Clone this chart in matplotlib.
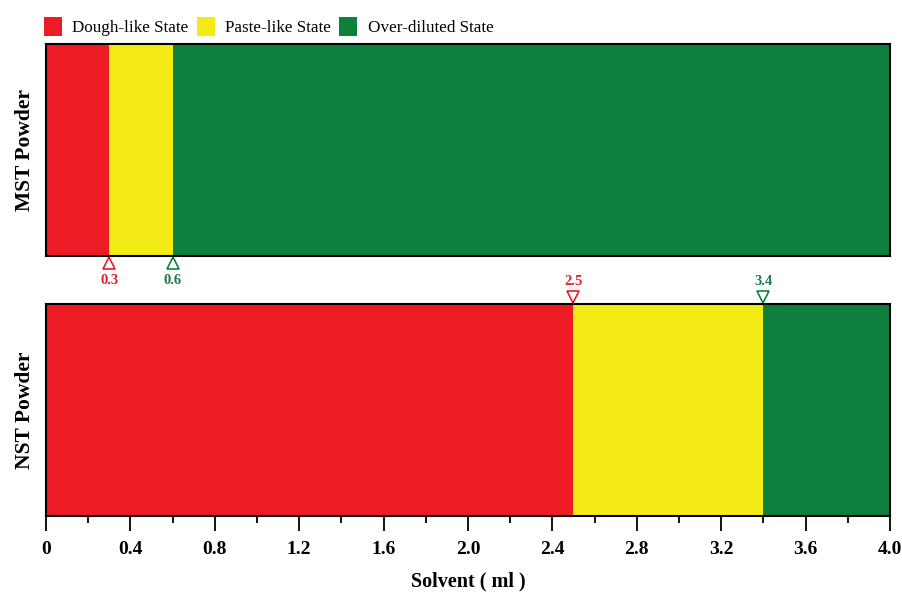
import matplotlib.pyplot as plt
from matplotlib.patches import Patch
from matplotlib.ticker import MultipleLocator

plt.rcParams['font.family'] = ['Liberation Serif', 'DejaVu Serif']

states = ['Dough-like State', 'Paste-like State', 'Over-diluted State']
colors = ['#ED1C24', '#F4EA16', '#0E7F3C']
x_max = 4.0
mst_bounds = [0.3, 0.6]   # dough->paste, paste->over-diluted
nst_bounds = [2.5, 3.4]
panels = ['MST Powder', 'NST Powder']

fig = plt.figure(figsize=(9.03, 5.92), dpi=100)
ax1 = fig.add_axes([0.0509, 0.5676, 0.9347, 0.358])
ax2 = fig.add_axes([0.0509, 0.1284, 0.9347, 0.358])

for ax, b, name in zip([ax1, ax2], [mst_bounds, nst_bounds], panels):
    edges = [0] + b + [x_max]
    lefts = edges[:-1]
    widths = [edges[i + 1] - edges[i] for i in range(3)]
    ax.barh([0, 0, 0], widths, left=lefts, height=1, color=colors)
    ax.set_xlim(0, x_max)
    ax.set_ylim(-0.5, 0.5)
    ax.set_yticks([])
    ax.set_ylabel(name, fontsize=15.5, fontweight='bold', labelpad=8)
    for s in ax.spines.values():
        s.set_linewidth(1.5)

ax1.set_xticks([])

# markers for the boundaries
mc = [colors[0], colors[2]]
mc_txt = ['#E02030', '#1A7A45']
for v, c, t in zip(mst_bounds, mc, mc_txt):
    ax1.plot(v, -0.535, marker='^', ms=9, mfc='white', mec=c, mew=1.2, clip_on=False)
    ax1.text(v, -0.585, str(v), color=t, ha='center', va='top', fontsize=10.5,
             fontweight='bold')
for v, c, t in zip(nst_bounds, mc, mc_txt):
    ax2.plot(v, 0.535, marker='v', ms=9, mfc='white', mec=c, mew=1.2, clip_on=False)
    ax2.text(v, 0.575, str(v), color=t, ha='center', va='bottom', fontsize=10.5,
             fontweight='bold')

ax2.xaxis.set_major_locator(MultipleLocator(0.4))
ax2.xaxis.set_minor_locator(MultipleLocator(0.2))
ax2.tick_params(axis='x', which='major', length=11, width=1.3, direction='out', pad=7,
                labelsize=14)
ax2.tick_params(axis='x', which='minor', length=5, width=1.3, direction='out')
ax2.set_xticks(ax2.get_xticks())
ax2.set_xticklabels(['0' if t == 0 else f'{t:.1f}' for t in ax2.get_xticks()],
                    fontweight='bold')
ax2.set_xlim(0, x_max)
ax2.set_xlabel('Solvent ( ml )', fontsize=14.5, fontweight='bold', labelpad=10)

handles = [Patch(facecolor=c, edgecolor='none', label=s) for s, c in zip(states, colors)]
fig.legend(handles=handles, loc='upper left', bbox_to_anchor=(0.0315, 0.998), ncol=3,
           frameon=False, fontsize=12.3, handlelength=1.05, handleheight=1.4,
           handletextpad=0.6, columnspacing=0.5)

fig.savefig('out.png', dpi=100)
